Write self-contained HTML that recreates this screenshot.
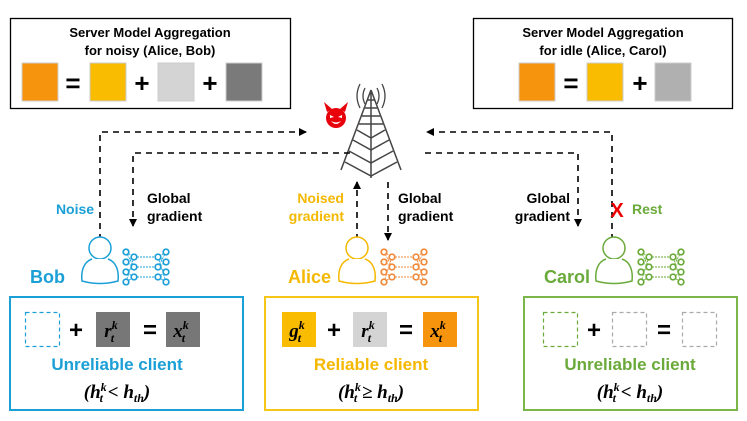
<!DOCTYPE html>
<html><head><meta charset="utf-8"><style>
body{margin:0;background:#fff}
svg{display:block;font-family:"Liberation Sans",sans-serif}
.b{font-weight:bold}
.m{font-family:"Liberation Serif",serif;font-style:italic;font-weight:bold}
</style></head><body>
<svg width="747" height="421" viewBox="0 0 747 421">
<defs>
<marker id="ar" markerWidth="8" markerHeight="8" refX="7" refY="4" orient="auto" markerUnits="userSpaceOnUse">
<path d="M0,0 L8,4 L0,8 z" fill="#000"/></marker>
<g id="net" fill="#fff" stroke="currentColor" stroke-width="1.7">
<g stroke-width="0.9" fill="none">
<path d="M0,0 L8,5 L0,10 L8,15 L0,20 L8,25 L0,30 M0,0 L8,15 M0,30 L8,5 M8,5 L32,5 M8,15 L32,15 M8,25 L32,25 M40,0 L32,5 L40,10 L32,15 L40,20 L32,25 L40,30 M40,0 L32,15 M40,30 L32,5" stroke-dasharray="2,1"/>
</g>
<circle cx="0" cy="0" r="2.8"/><circle cx="0" cy="10" r="2.8"/><circle cx="0" cy="20" r="2.8"/><circle cx="0" cy="30" r="2.8"/>
<circle cx="8" cy="5" r="2.8"/><circle cx="8" cy="15" r="2.8"/><circle cx="8" cy="25" r="2.8"/>
<circle cx="32" cy="5" r="2.8"/><circle cx="32" cy="15" r="2.8"/><circle cx="32" cy="25" r="2.8"/>
<circle cx="40" cy="0" r="2.8"/><circle cx="40" cy="10" r="2.8"/><circle cx="40" cy="20" r="2.8"/><circle cx="40" cy="30" r="2.8"/>
</g>
<g id="person" fill="#fff" stroke="currentColor" stroke-width="1.5">
<circle cx="0" cy="-11" r="11"/>
<path d="M-8,0 C-17,3 -19,13 -18,22 Q0,27 18,22 C19,13 17,3 8,0"/>
</g>
</defs>

<rect x="10.5" y="18.5" width="280" height="90" fill="#fff" stroke="#000" stroke-width="1.3"/>
<text x="150" y="37" text-anchor="middle" class="b" font-size="13">Server Model Aggregation</text>
<text x="150" y="55" text-anchor="middle" class="b" font-size="13">for noisy (Alice, Bob)</text>
<rect x="22" y="63" width="36" height="38" fill="#f7940d" stroke="#ccc"/>
<text x="73" y="92" text-anchor="middle" class="b" font-size="26">=</text>
<rect x="90" y="63" width="36" height="38" fill="#f9bc00" stroke="#ccc"/>
<text x="142" y="92" text-anchor="middle" class="b" font-size="26">+</text>
<rect x="158" y="63" width="36" height="38" fill="#d4d4d4" stroke="#ccc"/>
<text x="210" y="92" text-anchor="middle" class="b" font-size="26">+</text>
<rect x="226" y="63" width="36" height="38" fill="#7a7a7a" stroke="#ccc"/>

<rect x="473.5" y="18.5" width="259" height="90" fill="#fff" stroke="#000" stroke-width="1.3"/>
<text x="603" y="37" text-anchor="middle" class="b" font-size="13">Server Model Aggregation</text>
<text x="603" y="55" text-anchor="middle" class="b" font-size="13">for idle (Alice, Carol)</text>
<rect x="519" y="63" width="36" height="38" fill="#f7940d" stroke="#ccc"/>
<text x="571" y="92" text-anchor="middle" class="b" font-size="26">=</text>
<rect x="587" y="63" width="36" height="38" fill="#f9bc00" stroke="#ccc"/>
<text x="640" y="92" text-anchor="middle" class="b" font-size="26">+</text>
<rect x="655" y="63" width="36" height="38" fill="#b0b0b0" stroke="#ccc"/>

<g stroke="#444" stroke-width="1.5" fill="none">
<path d="M371,90 L341,170 M371,90 L401,170 M371,90 L371,178"/>
<path d="M367,100 L375,100 M365,108 L377,108 M362,116 L380,116 M359,124 L383,124"/>
<path d="M357,130 L371,138 L385,130 M353,140 L371,150 L389,140 M349,151 L371,163 L393,151 M345,162 L371,176 L397,162"/>
<path d="M365,88 Q361,96 365,104 M377,88 Q381,96 377,104 M360,84 Q354,96 360,108 M382,84 Q388,96 382,108" stroke-width="1.3"/>
</g>
<g fill="#e8000b">
<circle cx="336" cy="118" r="10"/>
<path d="M327,112 L324,102 L332,109 z M345,112 L348,102 L340,109 z"/>
</g>
<g fill="#fff"><path d="M330,115 L334,117 L330,118z M342,115 L338,117 L342,118z"/><path d="M331,121 Q336,127 341,121 Q336,124 331,121z"/></g>

<g stroke="#000" stroke-width="1.6" stroke-dasharray="6,5" fill="none">
<path d="M100,240 L100,132 L306,132" marker-end="url(#ar)"/>
<path d="M350,153 L133,153 L133,226" marker-end="url(#ar)"/>
<path d="M357,240 L357,182" marker-end="url(#ar)"/>
<path d="M388,182 L388,240" marker-end="url(#ar)"/>
<path d="M612,240 L612,132 L427,132" marker-end="url(#ar)"/>
<path d="M425,153 L578,153 L578,226" marker-end="url(#ar)"/>
</g>
<text x="75" y="214" text-anchor="middle" class="b" font-size="14" fill="#1a9fd6">Noise</text>
<text x="147" y="203" class="b" font-size="14">Global</text>
<text x="147" y="221" class="b" font-size="14">gradient</text>
<text x="344" y="203" text-anchor="end" class="b" font-size="14" fill="#f5b800">Noised</text>
<text x="344" y="221" text-anchor="end" class="b" font-size="14" fill="#f5b800">gradient</text>
<text x="398" y="203" class="b" font-size="14">Global</text>
<text x="398" y="221" class="b" font-size="14">gradient</text>
<text x="570" y="203" text-anchor="end" class="b" font-size="14">Global</text>
<text x="570" y="221" text-anchor="end" class="b" font-size="14">gradient</text>
<text x="617" y="217" text-anchor="middle" font-size="20" fill="#ee0000" class="b">X</text>
<text x="632" y="214" class="b" font-size="14" fill="#6aaa3a">Rest</text>

<g style="color:#1a9fd6"><use href="#person" x="100" y="259"/><use href="#net" x="126" y="252"/></g>
<text x="30" y="283" class="b" font-size="18" fill="#1a9fd6">Bob</text>
<g style="color:#f5b800"><use href="#person" x="357" y="259"/></g>
<g style="color:#f08a3a"><use href="#net" x="384" y="252"/></g>
<text x="288" y="283" class="b" font-size="18" fill="#f5b800">Alice</text>
<g style="color:#6aaa3a"><use href="#person" x="614" y="259"/><use href="#net" x="641" y="252"/></g>
<text x="544" y="283" class="b" font-size="18" fill="#6aaa3a">Carol</text>

<rect x="10" y="297" width="233" height="113" fill="none" stroke="#1a9fd6" stroke-width="2"/>
<rect x="25.5" y="312.5" width="34" height="34" fill="none" stroke="#1a9fd6" stroke-width="1.2" stroke-dasharray="4,3"/>
<text x="76" y="338" text-anchor="middle" class="b" font-size="24">+</text>
<rect x="96" y="312" width="34" height="35" fill="#777"/>
<text x="111" y="337" text-anchor="middle" class="m" font-size="19">r<tspan font-size="12" dy="-8">k</tspan><tspan font-size="12" dy="13" dx="-7">t</tspan></text>
<text x="150" y="338" text-anchor="middle" class="b" font-size="24">=</text>
<rect x="166" y="312" width="34" height="35" fill="#777"/>
<text x="181" y="337" text-anchor="middle" class="m" font-size="19">x<tspan font-size="12" dy="-8">k</tspan><tspan font-size="12" dy="13" dx="-7">t</tspan></text>
<text x="117" y="370" text-anchor="middle" class="b" font-size="17" fill="#1a9fd6">Unreliable client</text>
<text x="117" y="398" text-anchor="middle" class="m" font-size="19">(h<tspan font-size="12" dy="-7">k</tspan><tspan font-size="12" dy="11" dx="-7">t</tspan><tspan dy="-4"> &lt; h</tspan><tspan font-size="12" dy="4">th</tspan><tspan dy="-4">)</tspan></text>

<rect x="265" y="297" width="213" height="113" fill="none" stroke="#f5c518" stroke-width="2"/>
<rect x="282" y="312" width="34" height="35" fill="#f9bc00"/>
<text x="297" y="337" text-anchor="middle" class="m" font-size="19">g<tspan font-size="12" dy="-8">k</tspan><tspan font-size="12" dy="13" dx="-7">t</tspan></text>
<text x="334" y="338" text-anchor="middle" class="b" font-size="24">+</text>
<rect x="353" y="312" width="34" height="35" fill="#d4d4d4"/>
<text x="368" y="337" text-anchor="middle" class="m" font-size="19">r<tspan font-size="12" dy="-8">k</tspan><tspan font-size="12" dy="13" dx="-7">t</tspan></text>
<text x="406" y="338" text-anchor="middle" class="b" font-size="24">=</text>
<rect x="423" y="312" width="34" height="35" fill="#f7940d"/>
<text x="438" y="337" text-anchor="middle" class="m" font-size="19">x<tspan font-size="12" dy="-8">k</tspan><tspan font-size="12" dy="13" dx="-7">t</tspan></text>
<text x="371" y="370" text-anchor="middle" class="b" font-size="17" fill="#f5b800">Reliable client</text>
<text x="371" y="398" text-anchor="middle" class="m" font-size="19">(h<tspan font-size="12" dy="-7">k</tspan><tspan font-size="12" dy="11" dx="-7">t</tspan><tspan dy="-4"> ≥ h</tspan><tspan font-size="12" dy="4">th</tspan><tspan dy="-4">)</tspan></text>

<rect x="524" y="297" width="213" height="113" fill="none" stroke="#7ab648" stroke-width="2"/>
<rect x="543.5" y="312.5" width="34" height="34" fill="none" stroke="#6aaa3a" stroke-width="1.2" stroke-dasharray="4,3"/>
<text x="594" y="338" text-anchor="middle" class="b" font-size="24">+</text>
<rect x="612.5" y="312.5" width="34" height="34" fill="none" stroke="#aaa" stroke-width="1.2" stroke-dasharray="4,3"/>
<text x="664" y="338" text-anchor="middle" class="b" font-size="24">=</text>
<rect x="682.5" y="312.5" width="34" height="34" fill="none" stroke="#aaa" stroke-width="1.2" stroke-dasharray="4,3"/>
<text x="630" y="370" text-anchor="middle" class="b" font-size="17" fill="#6aaa3a">Unreliable client</text>
<text x="630" y="398" text-anchor="middle" class="m" font-size="19">(h<tspan font-size="12" dy="-7">k</tspan><tspan font-size="12" dy="11" dx="-7">t</tspan><tspan dy="-4"> &lt; h</tspan><tspan font-size="12" dy="4">th</tspan><tspan dy="-4">)</tspan></text>
</svg>
</body></html>
